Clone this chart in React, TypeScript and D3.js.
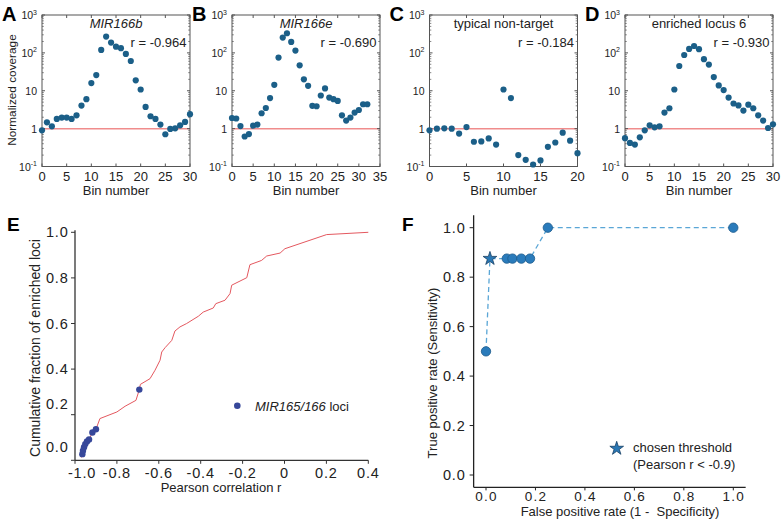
import React from "react";
import * as d3 from "d3";

// ---------- data ----------
const covA = [0.9,1.47,1.15,1.8,1.96,1.96,1.8,2.25,4.07,6,15.9,26,120,270,187,146,133,94,61,18.8,10.8,3.74,2.12,1.8,1.28,0.71,0.98,1.02,1.22,1.5,2.4];
const covB = [1.91,1.85,1.17,0.62,0.72,1.2,1.28,2.55,3.5,6.4,14.3,75,253,330,195,115,47,20,13.5,4,3.9,7.5,11.5,6.6,6,5.4,2.25,1.63,1.96,2.66,3.1,4.4,4.4];
const covC = [0.9,1.0,1.02,1.0,0.74,1.1,0.45,0.46,0.55,0.38,10.8,6.4,0.2,0.15,0.113,0.145,0.33,0.43,0.78,0.48,0.225];
const covD = [0.56,0.42,0.38,0.59,0.9,1.22,1.08,1.15,2.66,3.45,10.8,45,88,127,152,125,68,49,23,13.8,10.4,6.6,4.6,4.1,3,4.3,3.45,2.25,1.63,1.04,1.3];

const panelTitles = ["MIR166b", "MIR166e", "typical non-target", "enriched locus 6"];
const panelR = ["r = -0.964", "r = -0.690", "r = -0.184", "r = -0.930"];
const panelLetters = ["A", "B", "C", "D"];
const panelXMax = [30, 35, 20, 30];
const logTicks = [0.1, 1, 10, 100, 1000];

const eR = [-0.968,-0.965,-0.962,-0.957,-0.951,-0.943,-0.933,-0.917,-0.9,-0.881,-0.8,-0.761,-0.709,-0.693,-0.688,-0.642,-0.618,-0.594,-0.586,-0.57,-0.538,-0.523,-0.499,-0.467,-0.411,-0.388,-0.34,-0.328,-0.284,-0.26,-0.252,-0.18,-0.165,-0.117,-0.109,-0.085,-0.021,0.002,0.201,0.4];
const eFrac = [0.012,0.027,0.042,0.057,0.071,0.083,0.091,0.122,0.136,0.183,0.212,0.237,0.263,0.31,0.333,0.358,0.395,0.439,0.475,0.494,0.526,0.567,0.585,0.6,0.632,0.65,0.668,0.687,0.702,0.731,0.768,0.801,0.858,0.874,0.877,0.896,0.909,0.928,0.99,1.0];
const mirR = [-0.965,-0.962,-0.957,-0.951,-0.943,-0.933,-0.917,-0.9,-0.693];
const mirFrac = [0.027,0.042,0.057,0.071,0.083,0.091,0.122,0.136,0.31];
const eXTicks = [-1.0,-0.8,-0.6,-0.4,-0.2,0,0.2,0.4];
const eXLabels = ["-1.0","-0.8","-0.6","-0.4","-0.2","0","0.2","0.4"];
const eYTicks = [0,0.2,0.4,0.6,0.8,1.0];

const fFpr = [0, 0.016, 0.084, 0.107, 0.143, 0.178, 0.25, 1.0];
const fTpr = [0.5, 0.875, 0.875, 0.875, 0.875, 0.875, 1.0, 1.0];
const fStarIndex = 1;
const fTicks = [0, 0.2, 0.4, 0.6, 0.8, 1.0];

const FONT = "'Liberation Sans', Arial, Helvetica, sans-serif";

function supLabel(v: number) {
  if (v === 1) return { base: "1", sup: "" };
  if (v === 10) return { base: "10", sup: "" };
  const e = Math.round(Math.log10(v));
  return { base: "10", sup: String(e) };
}

function TopPanel({ idx, x0, values }: { idx: number; x0: number; values: number[] }) {
  const w = 148;
  const top = 15;
  const bottom = 166.5;
  const xMax = panelXMax[idx];
  const x = d3.scaleLinear().domain([0, xMax]).range([x0, x0 + w]);
  const y = d3.scaleLog().domain([0.1, 1000]).range([bottom, top]);
  const xt = d3.range(0, xMax + 0.1, 5);
  const minor: number[] = [];
  [0.1, 1, 10, 100].forEach((d) => { for (let k = 2; k <= 9; k++) minor.push(d * k); });
  const frame = "#555";
  return (
    <g>
      <text x={x0 - 40} y={20.5} fontSize={20} fontWeight="bold" fontFamily={FONT}>{panelLetters[idx]}</text>
      <line x1={x(0)} x2={x(xMax)} y1={y(1)} y2={y(1)} stroke="#f08c8c" strokeWidth={1.5} />
      {xt.map((t) => (
        <g key={"xt" + t}>
          <line x1={x(t)} x2={x(t)} y1={bottom} y2={bottom - 3} stroke={frame} />
          <line x1={x(t)} x2={x(t)} y1={top} y2={top + 3} stroke={frame} />
          <text x={x(t)} y={181} textAnchor="middle" fontSize={13} fontFamily={FONT} fill="#222">{t}</text>
        </g>
      ))}
      {logTicks.map((t) => {
        const l = supLabel(t);
        return (
          <g key={"yt" + t}>
            <line x1={x0} x2={x0 + 3} y1={y(t)} y2={y(t)} stroke={frame} />
            <line x1={x0 + w} x2={x0 + w - 3} y1={y(t)} y2={y(t)} stroke={frame} />
            <text x={x0 - 5} y={y(t) + 4} textAnchor="end" fontSize={10.5} fontFamily={FONT} fill="#222">
              {l.base}
              {l.sup && <tspan dy={-4.5} fontSize={7}>{l.sup}</tspan>}
            </text>
          </g>
        );
      })}
      {minor.map((t, i) => (
        <g key={"mn" + i}>
          <line x1={x0} x2={x0 + 1.8} y1={y(t)} y2={y(t)} stroke={frame} strokeWidth={0.7} />
          <line x1={x0 + w} x2={x0 + w - 1.8} y1={y(t)} y2={y(t)} stroke={frame} strokeWidth={0.7} />
        </g>
      ))}
      <rect x={x0} y={top} width={w} height={bottom - top} fill="none" stroke={frame} strokeWidth={1} />
      {values.map((v, i) => (
        <circle key={i} cx={x(i)} cy={y(v)} r={3.1} fill="#1b5f88" />
      ))}
      <text x={x0 + w / 2} y={27.5} textAnchor="middle" fontSize={13} fontFamily={FONT}
        fontStyle={idx < 2 ? "italic" : "normal"} fill="#222">{panelTitles[idx]}</text>
      <text x={x0 + w - 3.5} y={46.5} textAnchor="end" fontSize={13} fontFamily={FONT} fill="#222">{panelR[idx]}</text>
      <text x={x0 + w / 2} y={194.5} textAnchor="middle" fontSize={13} fontFamily={FONT} fill="#222">Bin number</text>
    </g>
  );
}

function PanelE() {
  const x = d3.scaleLinear().domain([-1, 0.4]).range([75, 368.3]);
  const y = d3.scaleLinear().domain([0, 1]).range([460.3, 232.3]);
  const line = d3.line<number>().x((_, i) => x(eR[i])).y((d) => y(d));
  const axis = "#333";
  const yLabelShift = (t: number) => (t === 0 ? -13.5 : t === 0.2 ? -11 : 0);
  return (
    <g fontFamily={FONT}>
      <text x={7} y={230.5} fontSize={19} fontWeight="bold">E</text>
      <line x1={x(-1)} x2={x(-1)} y1={y(0)} y2={y(1) - 2} stroke={axis} strokeWidth={1.3} />
      <line x1={x(-1)} x2={x(0.4)} y1={y(0)} y2={y(0)} stroke={axis} strokeWidth={1.3} />
      {eYTicks.map((t) => (
        <g key={"ey" + t}>
          <line x1={x(-1) - 4} x2={x(-1)} y1={y(t)} y2={y(t)} stroke={axis} />
          <text x={68.5} y={y(t) + 5 + yLabelShift(t)} textAnchor="end" fontSize={14.5} letterSpacing={0.8} fill="#222">{t.toFixed(1)}</text>
        </g>
      ))}
      {eXTicks.map((t, i) => (
        <g key={"ex" + t}>
          <line x1={x(t)} x2={x(t)} y1={y(0)} y2={y(0) + 3.5} stroke={axis} />
          <text x={x(t) + (i === 0 ? 7 : 0)} y={477.5} textAnchor="middle" fontSize={14.5} letterSpacing={0.8} fill="#222">{eXLabels[i]}</text>
        </g>
      ))}
      <path d={line(eFrac) || ""} fill="none" stroke="#e4585f" strokeWidth={1} />
      {mirR.map((r, i) => (
        <circle key={i} cx={x(r)} cy={y(mirFrac[i])} r={3.2} fill="#36479a" />
      ))}
      <circle cx={237.3} cy={405.7} r={3.3} fill="#36479a" />
      <text x={255} y={410.5} fontSize={13} fill="#222"><tspan fontStyle="italic">MIR165/166</tspan> loci</text>
      <text x={221} y={492} textAnchor="middle" fontSize={13} fill="#222">Pearson correlation r</text>
      <text transform="translate(40,348) rotate(-90)" textAnchor="middle" fontSize={14} fill="#222">Cumulative fraction of enriched loci</text>
    </g>
  );
}

function PanelF() {
  const x = d3.scaleLinear().domain([0, 1]).range([486, 733.3]);
  const y = d3.scaleLinear().domain([0, 1]).range([475, 227.7]);
  const line = d3.line<number>().x((_, i) => x(fFpr[i])).y((d) => y(d));
  const axis = "#222";
  const star = d3.symbol().type(d3.symbolStar).size(58)() || "";
  return (
    <g fontFamily={FONT}>
      <text x={402} y={231} fontSize={19} fontWeight="bold">F</text>
      <line x1={x(-0.05)} x2={x(-0.05)} y1={y(-0.05)} y2={y(1.05)} stroke={axis} strokeWidth={1.3} />
      <line x1={x(-0.05)} x2={x(1.05)} y1={y(-0.05)} y2={y(-0.05)} stroke={axis} strokeWidth={1.3} />
      {fTicks.map((t) => (
        <g key={"fy" + t}>
          <line x1={x(-0.05) - 4} x2={x(-0.05)} y1={y(t)} y2={y(t)} stroke={axis} />
          <text x={465.5} y={y(t) + 5} textAnchor="end" fontSize={14.5} letterSpacing={0.8} fill="#222">{t.toFixed(1)}</text>
          <line x1={x(t)} x2={x(t)} y1={y(-0.05)} y2={y(-0.05) + 3} stroke={axis} />
          <text x={x(t) + 0.5} y={500.5} textAnchor="middle" fontSize={13.5} letterSpacing={1.2} fill="#222">{t.toFixed(1)}</text>
        </g>
      ))}
      <path d={line(fTpr) || ""} fill="none" stroke="#5aa6d6" strokeWidth={1.3} strokeDasharray="5,3.5" />
      {fFpr.map((f, i) =>
        i === fStarIndex ? (
          <path key={i} d={star} transform={`translate(${x(f)},${y(fTpr[i])})`} fill="#2a78b5" stroke="#163f63" strokeWidth={0.8} />
        ) : (
          <circle key={i} cx={x(f)} cy={y(fTpr[i])} r={4.7} fill="#2a7bbb" stroke="#1d5a8c" strokeWidth={0.8} />
        )
      )}
      <path d={star} transform="translate(616.7,448.5)" fill="#2a78b5" stroke="#163f63" strokeWidth={0.8} />
      <text x={633} y={452} fontSize={13} fill="#222">chosen threshold</text>
      <text x={633} y={468.5} fontSize={13} fill="#222">(Pearson r &lt; -0.9)</text>
      <text x={620} y={515.5} textAnchor="middle" fontSize={13} fill="#222" style={{ whiteSpace: "pre" }}>False positive rate (1 -  Specificity)</text>
      <text transform="translate(437,373) rotate(-90)" textAnchor="middle" fontSize={13} fill="#222">True positive rate (Sensitivity)</text>
    </g>
  );
}

export default function App() {
  const lefts = [42, 232, 429.5, 625];
  const data = [covA, covB, covC, covD];
  return (
    <svg width={782} height={520} style={{ position: "absolute", left: 0, top: 0, background: "#fff" }}>
      <rect width={782} height={520} fill="#fff" />
      {data.map((v, i) => (
        <TopPanel key={i} idx={i} x0={lefts[i]} values={v} />
      ))}
      <text transform="translate(16,90) rotate(-90)" textAnchor="middle" fontSize={11.8} fontFamily={FONT} fill="#222">Normalized coverage</text>
      <PanelE />
      <PanelF />
    </svg>
  );
}
